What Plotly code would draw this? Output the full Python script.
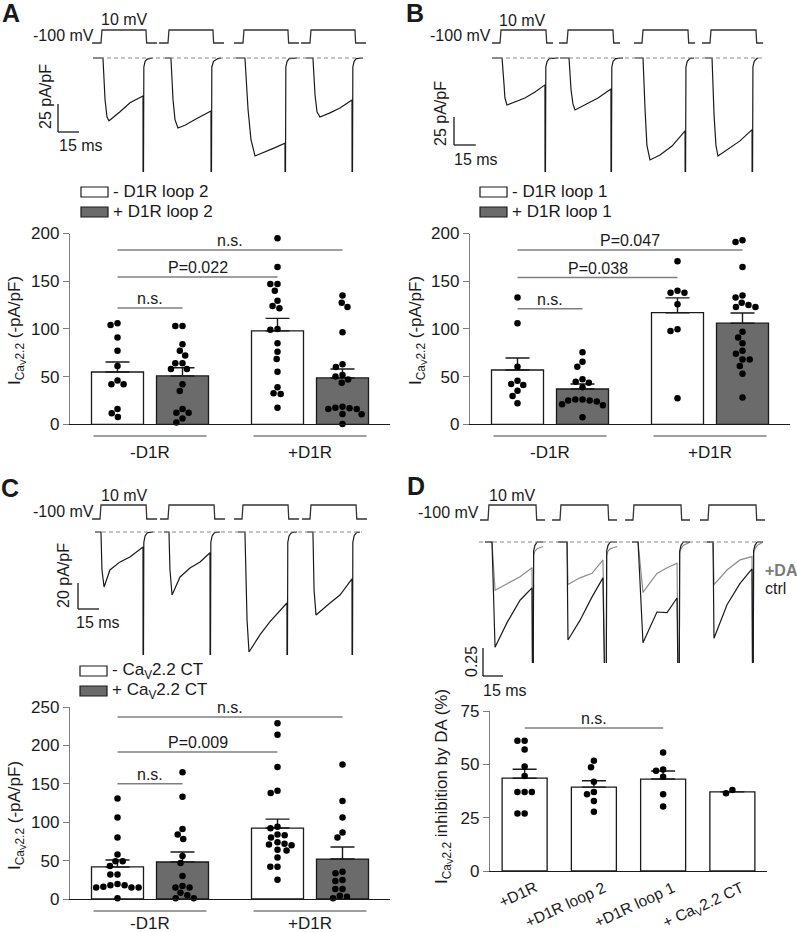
import plotly.graph_objects as go

W, H = 797, 932
FONT = "Liberation Sans, Arial, sans-serif"
BLACK = "#1a1a1a"
AXGREY = "#7f7f7f"
BARGREY = "#6b6b6b"
DAGREY = "#8c8c8c"
BARGAP, BARGROUPGAP = 0.1875, 0.2

# ======================= DATA =======================
# voltage protocol (mV) and its timing (ms) per panel
STEP_V = [-100, -100, 10, 10, -100, -100]
A_step_t = [-6.4, 0, 0.7, 32.1, 32.6, 40.0]
B_step_t = [-5.5, 0, 0.7, 31.7, 32.2, 36.6]
C_step_t = [-5.7, 0, 0.7, 32.9, 33.4, 40.7]
D_step_t = [-6.0, 0, 0.7, 36.1, 36.6, 42.9]

# current traces (time ms, current pA/pF)
A1_t = [-5.7, 1.4, 2.9, 4.3, 5.7, 10.0, 13.6, 20.7, 25.7, 30.0, 30.1, 30.6, 31.5, 33.0, 37.0]
A1_i = [0, 0, -37.5, -52.7, -56.0, -52.0, -48.0, -40.0, -36.6, -34.0, -200, -8, -3, -1, 0]
A2_t = [-2.1, 2.1, 3.6, 5.0, 7.1, 12.1, 19.3, 26.4, 30.7, 30.8, 31.3, 32.5, 35.7, 37.9]
A2_i = [0, 0, -37.5, -55.0, -62.5, -60.0, -55.0, -50.0, -47.3, -200, -8, -3, -0.5, 0]
A3_t = [-5.0, 1.4, 3.6, 5.7, 8.6, 15.7, 22.9, 30.0, 30.1, 30.6, 31.5, 33.0, 38.6]
A3_i = [0, 0, -46.0, -73.0, -87.5, -84.0, -80.0, -76.0, -200, -8, -3, -0.5, 0]
A4_t = [-2.9, 2.1, 3.6, 5.0, 7.1, 14.3, 21.4, 30.0, 30.1, 30.6, 31.5, 33.0, 37.9]
A4_i = [0, 0, -33.0, -48.0, -52.7, -49.0, -44.6, -37.5, -200, -8, -3, -0.5, 0]

B1_t = [-5.5, 1.4, 2.8, 3.4, 4.8, 10.3, 17.2, 24.1, 31.0, 31.1, 31.6, 32.5, 34.0, 40.0]
B1_i = [0, 0, -24.0, -35.7, -42.0, -39.3, -35.7, -30.4, -24.0, -200, -8, -3, -0.5, 0]
B2_t = [-4.8, 1.4, 2.8, 4.1, 5.5, 12.4, 21.4, 30.3, 30.4, 30.9, 31.8, 33.5, 38.6]
B2_i = [0, 0, -28.6, -41.0, -46.4, -42.0, -35.7, -27.7, -200, -8, -3, -0.5, 0]
B3_t = [-4.8, 0.7, 2.1, 3.4, 5.5, 12.4, 20.7, 29.7, 29.8, 30.3, 31.2, 32.9, 35.9]
B3_i = [0, 0, -46.0, -78.0, -91.0, -86.6, -78.6, -65.0, -200, -8, -3, -0.5, 0]
B4_t = [-3.4, 1.4, 2.8, 4.1, 5.5, 12.4, 20.7, 29.0, 29.1, 29.6, 30.5, 32.2, 33.1]
B4_i = [0, 0, -51.0, -78.0, -87.5, -81.0, -74.0, -64.0, -200, -8, -3, -0.5, 0]

C1_t = [-3.6, 0.7, 1.4, 2.9, 7.1, 14.3, 21.4, 30.7, 30.8, 31.3, 32.2, 33.9, 37.9]
C1_i = [0, 0, -29.0, -42.3, -29.2, -23.0, -19.2, -11.5, -200, -8, -3, -0.5, 0]
C2_t = [-2.9, 0.7, 1.4, 2.9, 8.6, 15.7, 22.9, 30.0, 30.1, 30.6, 31.5, 33.2, 37.1]
C2_i = [0, 0, -29.0, -48.5, -34.6, -27.7, -23.0, -16.0, -200, -8, -3, -0.5, 0]
C3_t = [-2.9, 2.1, 3.6, 5.0, 12.9, 20.0, 32.1, 32.2, 32.7, 33.6, 35.3, 39.3]
C3_i = [0, 0, -67.7, -92.3, -79.0, -69.0, -54.6, -200, -8, -3, -0.5, 0]
C4_t = [-2.1, 2.1, 2.9, 4.3, 14.3, 21.4, 30.0, 30.1, 30.6, 31.5, 33.2, 35.7]
C4_i = [0, 0, -44.6, -63.8, -54.6, -48.5, -36.0, -200, -8, -3, -0.5, 0]

# panel D: normalised current, ctrl (black) and +DA (grey)
D1_t = [-2.3, 3.0, 5.3, 14.3, 24.1, 33.1, 33.8, 34.3, 35.3, 37.0, 41.4]
D1_ctrl = [0, 0, -0.94, -0.72, -0.52, -0.41, -2.0, -0.08, -0.03, 0, 0]
D1_da = [0, 0, -0.43, -0.37, -0.31, -0.23, -2.0, -0.12, -0.08, -0.06, -0.04]
D2_t = [-1.5, 5.3, 6.0, 15.0, 24.1, 32.3, 34.6, 35.1, 36.1, 37.8, 42.9]
D2_ctrl = [0, 0, -0.875, -0.70, -0.49, -0.32, -2.0, -0.08, -0.03, 0, 0]
D2_da = [0, 0, -0.38, -0.32, -0.28, -0.16, -2.0, -0.12, -0.08, -0.06, -0.04]
D3_t = [-0.8, 3.8, 7.5, 18.0, 25.6, 33.1, 34.6, 35.1, 36.1, 37.8, 42.9]
D3_ctrl = [0, 0, -0.90, -0.625, -0.63, -0.50, -2.0, -0.08, -0.03, 0, 0]
D3_da = [0, 0, -0.45, -0.28, -0.23, -0.19, -2.0, -0.10, -0.06, -0.03, 0]
D4_t = [-0.8, 3.8, 4.5, 14.3, 24.1, 33.1, 33.8, 34.3, 35.3, 37.0, 41.4]
D4_ctrl = [0, 0, -0.86, -0.56, -0.37, -0.24, -2.0, -0.08, -0.03, 0, 0]
D4_da = [0, 0, -0.38, -0.25, -0.16, -0.13, -2.0, -0.10, -0.06, -0.03, 0]

# bar charts: groups, series, means, SEM, individual cells
GROUPS = ["-D1R", "+D1R"]
A_series = ["- D1R loop 2", "+ D1R loop 2"]
A_mean_w = [54.8, 97.9]
A_sem_w = [10.5, 13.1]
A_mean_g = [50.7, 48.6]
A_sem_g = [8.5, 9.3]
A_pts_w_neg = [106, 104, 91, 77, 61, 46, 42, 42, 16, 11.5, 7.6]
A_pts_g_neg = [103, 103, 84, 77, 72, 64, 64, 58, 58, 42, 35, 16, 12, 12, 6, 2]
A_pts_w_pos = [195, 165, 147, 147, 140, 129.5, 124, 121.6, 100, 99, 85, 76, 68.5, 55, 38.8, 32.5, 31.8, 17.4]
A_pts_g_pos = [135, 127.5, 123, 96.4, 63, 60, 51.7, 50, 47, 43.6, 18.5, 17.4, 16.8, 16, 16, 10.8, 10.5, 0.3]
A_sig_from = [0, 0, 0]
A_sig_to = [1, 2, 3]
A_sig_y = [122, 154.4, 182.6]
A_sig_text = ["n.s.", "P=0.022", "n.s."]

B_series = ["- D1R loop 1", "+ D1R loop 1"]
B_mean_w = [56.9, 117.0]
B_sem_w = [12.6, 15.5]
B_mean_g = [37.0, 106.0]
B_sem_g = [5.2, 10.7]
B_pts_w_neg = [133, 106, 60.4, 45.7, 42.2, 41.2, 35.2, 29.7, 22]
B_pts_g_neg = [75.5, 65.6, 60.4, 47.2, 44.7, 43.6, 38.8, 26, 26, 25, 25, 24, 21, 20, 7.3]
B_pts_w_pos = [171, 140, 138, 138, 125.8, 99.6, 97.8, 27.4]
B_pts_g_pos = [193, 191, 165, 135, 133, 127.5, 125, 123, 123, 97, 91, 85, 77, 74, 68, 68, 61, 53, 28]
B_sig_from = [0, 0, 0]
B_sig_to = [1, 2, 3]
B_sig_y = [121, 153.8, 182.6]
B_sig_text = ["n.s.", "P=0.038", "P=0.047"]

C_series = ["- Ca<sub>V</sub>2.2 CT", "+ Ca<sub>V</sub>2.2 CT"]
C_mean_w = [41.7, 92.4]
C_sem_w = [9.1, 11.6]
C_mean_g = [48.2, 52.0]
C_sem_g = [13.0, 15.7]
C_pts_w_neg = [131, 106, 80, 58, 49, 49, 43, 32, 32, 19.5, 18, 18, 16, 15, 15, 15, 1]
C_pts_g_neg = [165, 133, 91, 84, 78, 56, 47, 30, 17, 15, 15, 8, 5, 1, 1]
C_pts_w_pos = [229, 214, 172, 141, 138, 94, 92, 84, 83, 80, 74, 72, 71, 70, 64, 63, 54, 42, 42, 25]
C_pts_g_pos = [175, 127.5, 106, 86.7, 80, 35.5, 33.4, 24.7, 23.4, 13, 13, 4.3, 3, 1]
C_sig_from = [0, 0, 0]
C_sig_to = [1, 2, 3]
C_sig_y = [150, 191.4, 237]
C_sig_text = ["n.s.", "P=0.009", "n.s."]

D_cats = ["+D1R", "+D1R loop 2", "+D1R loop 1", "+ Ca<sub>V</sub>2.2 CT"]
D_mean = [43.5, 39.3, 43.1, 37.1]
D_sem = [4.2, 3.0, 3.8, 0.0]
D_pts_1 = [61, 61, 57, 49, 44.5, 37, 37, 37, 27, 27]
D_pts_2 = [51.7, 48.6, 41.8, 37, 36, 32.8, 27.8]
D_pts_3 = [55.5, 47.6, 47, 44.2, 36, 30.2]
D_pts_4 = [38, 36.4]
D_sig_from = [0]
D_sig_to = [2]
D_sig_y = [67]
D_sig_text = ["n.s."]

# ======================= HELPERS =======================
layout_axes = {}
counters = {"x": 0, "y": 0}
traces = []
shapes = []
annotations = []


def add_axis(kind, **kw):
    counters[kind] += 1
    n = counters[kind]
    key = f"{kind}axis" + ("" if n == 1 else str(n))
    kw.setdefault("automargin", False)
    layout_axes[key] = kw
    return kind + ("" if n == 1 else str(n)), key


def px2x(px):
    return px / W


def py2y(py):
    return 1 - py / H


def text(px, py, s, size=16, xanchor="center", yanchor="middle", angle=0, color=BLACK, bold=False):
    annotations.append(dict(
        xref="paper", yref="paper", x=px2x(px), y=py2y(py),
        text=f"<b>{s}</b>" if bold else s, showarrow=False,
        xanchor=xanchor, yanchor=yanchor, textangle=angle, borderpad=0,
        font=dict(family=FONT, size=size, color=color)))


def line_px(x0, y0, x1, y1, color=BLACK, width=1.3, dash=None):
    shapes.append(dict(type="line", xref="paper", yref="paper",
                       x0=px2x(x0), x1=px2x(x1), y0=py2y(y0), y1=py2y(y1),
                       line=dict(color=color, width=width, dash=dash)))


def rect_px(x0, y0, x1, y1, fill):
    shapes.append(dict(type="rect", xref="paper", yref="paper",
                       x0=px2x(x0), x1=px2x(x1), y0=py2y(y1), y1=py2y(y0),
                       fillcolor=fill, line=dict(color=BLACK, width=1.2)))


def trace_panel(rises, pxms, trange, v_hi_px, v_lo_px, base_px, ppu, top_px, bot_px,
                step_t, sweeps, dash_x):
    ppmv = (v_lo_px - v_hi_px) / 110.0
    yv, _ = add_axis("y", visible=False, fixedrange=True,
                     domain=[py2y(v_lo_px + 4), py2y(v_hi_px - 4)],
                     range=[-100 - 4 / ppmv, 10 + 4 / ppmv])
    yi, _ = add_axis("y", visible=False, fixedrange=True,
                     domain=[py2y(bot_px), py2y(top_px)],
                     range=[-(bot_px - base_px) / ppu, (base_px - top_px) / ppu])
    line_px(dash_x[0], base_px, dash_x[1], base_px, "#8a8a8a", 1.2, "4px,3px")
    for r, sw in zip(rises, sweeps):
        xa, _ = add_axis("x", visible=False, fixedrange=True,
                         domain=[px2x(r + trange[0] * pxms), px2x(r + trange[1] * pxms)],
                         range=list(trange))
        traces.append(go.Scatter(x=step_t, y=STEP_V, xaxis=xa, yaxis=yv, mode="lines",
                                 line=dict(color="#333333", width=1.3), hoverinfo="skip"))
        for (t, cur, col) in sw:
            traces.append(go.Scatter(x=t, y=cur, xaxis=xa, yaxis=yi, mode="lines",
                                     line=dict(color=col, width=1.2), hoverinfo="skip"))


def swarm(vals, ppu_y, ppu_x, d=7.2):
    order = sorted(range(len(vals)), key=lambda k: -vals[k])
    placed = []
    xs = [0.0] * len(vals)
    for k in order:
        y = vals[k] * ppu_y
        cands = [0.0]
        for (qx, qy) in placed:
            dy = abs(y - qy)
            if dy < d:
                dx = (d * d - dy * dy) ** 0.5
                cands += [qx - dx, qx + dx]
        cands.sort(key=lambda c: (abs(c), c))
        for c in cands:
            if all((c - qx) ** 2 + (y - qy) ** 2 >= d * d - 1e-6 for qx, qy in placed):
                xs[k] = c
                placed.append((c, y))
                break
    return [x / ppu_x for x in xs]


def bar_panel(x0px, x1px, ytop_px, ybot_px, ymax, dtick, series, ncat,
              sig_from, sig_to, sig_y, sig_text, cat_labels=None):
    xb, xkey = add_axis("x")
    yb, ykey = add_axis("y")
    layout_axes[xkey].update(
        domain=[px2x(x0px), px2x(x1px)], range=[-0.5, ncat - 0.5], anchor=yb,
        showline=True, linecolor=BLACK, linewidth=1.4, showgrid=False, zeroline=False,
        ticks="", showticklabels=False, fixedrange=True)
    layout_axes[ykey].update(
        domain=[py2y(ybot_px), py2y(ytop_px)], range=[0, ymax], anchor=xb,
        showline=True, linecolor=AXGREY, linewidth=1.4, showgrid=False, zeroline=False,
        ticks="outside", ticklen=6, tickwidth=1.4, tickcolor=AXGREY, fixedrange=True,
        tickmode="linear", tick0=0, dtick=dtick,
        tickfont=dict(family=FONT, size=17, color=BLACK))
    ns = len(series)
    group_w = 1 - BARGAP
    slot = group_w / ns
    ppu_y = (ybot_px - ytop_px) / ymax
    ppu_x = (x1px - x0px) / ncat
    centers = []
    for s, ser in enumerate(series):
        off = -group_w / 2 + slot * (s + 0.5)
        traces.append(go.Bar(
            x=list(range(ncat)), y=ser["mean"], xaxis=xb, yaxis=yb,
            marker=dict(color=ser["color"], line=dict(color=BLACK, width=1.3)),
            error_y=dict(type="data", symmetric=False, array=ser["sem"],
                         arrayminus=[0] * ncat, color=BLACK, thickness=1.4, width=12),
            hoverinfo="skip"))
        for c in range(ncat):
            centers.append((c, s, c + off))
        for c, pts in enumerate(ser["pts"]):
            dx = swarm(pts, ppu_y, ppu_x)
            traces.append(go.Scatter(
                x=[c + off + d for d in dx], y=pts, xaxis=xb, yaxis=yb, mode="markers",
                marker=dict(size=6.5, color="black"), cliponaxis=False, hoverinfo="skip"))
    order = sorted(centers, key=lambda t: (t[0], t[1]))
    pos = [t[2] for t in order]
    for a, b, h, lab in zip(sig_from, sig_to, sig_y, sig_text):
        shapes.append(dict(type="line", xref=xb, yref=yb, x0=pos[a], x1=pos[b], y0=h, y1=h,
                           line=dict(color=AXGREY, width=1.5)))
        annotations.append(dict(xref=xb, yref=yb, x=(pos[a] + pos[b]) / 2, y=h, text=lab,
                                showarrow=False, yanchor="bottom", yshift=0, borderpad=0,
                                font=dict(family=FONT, size=16, color=BLACK)))
    if cat_labels:
        # slanted category labels, right end just past each bar centre
        for c, lab in enumerate(cat_labels):
            annotations.append(dict(xref=xb, yref="paper", x=c + 16 / ppu_x, y=py2y(ybot_px + 6),
                                    text=lab, showarrow=False, xanchor="right", yanchor="top",
                                    textangle=-25, borderpad=0,
                                    font=dict(family=FONT, size=15.5, color=BLACK)))
    return x0px, ppu_x, slot


def group_axis_labels(x0px, ppu_x, slot, line_py, label_py):
    half = (slot / 2 + slot * (1 - BARGROUPGAP) / 2) * ppu_x - 2
    for g, lab in enumerate(GROUPS):
        cx = x0px + (g + 0.5) * ppu_x
        line_px(cx - half, line_py, cx + half, line_py, AXGREY, 1.4)
        text(cx, label_py, lab, size=17)


def legend(x0, y0, labels):
    for k, (lab, fill) in enumerate(zip(labels, ["white", BARGREY])):
        yy = y0 + 20 * k
        rect_px(x0, yy - 5, x0 + 27, yy + 5, fill)
        text(x0 + 31, yy, lab, size=17, xanchor="left")


# ======================= PANEL A =======================
text(11, 13, "A", size=25, bold=True)
text(95, 35, "-100 mV", size=16, xanchor="right")
text(100, 20, "10 mV", size=16, xanchor="left")
trace_panel([101, 168, 243, 310], 1.4, (-6.5, 40.5), 30, 43, 58, 1.12, 50, 172, A_step_t,
            [[(A1_t, A1_i, BLACK)], [(A2_t, A2_i, BLACK)], [(A3_t, A3_i, BLACK)], [(A4_t, A4_i, BLACK)]],
            (93, 365))
line_px(58, 132 - 25 * 1.12, 58, 132)
line_px(58, 132, 58 + 15 * 1.4, 132)
text(46, 97, "25 pA/pF", size=16, angle=-90)
text(58, 146, "15 ms", size=16, xanchor="left")
legend(81, 192, A_series)
xa0, ppa, sla = bar_panel(70, 390, 233.5, 424.3, 200, 50,
                          [dict(mean=A_mean_w, sem=A_sem_w, color="white", pts=[A_pts_w_neg, A_pts_w_pos]),
                           dict(mean=A_mean_g, sem=A_sem_g, color=BARGREY, pts=[A_pts_g_neg, A_pts_g_pos])],
                          2, A_sig_from, A_sig_to, A_sig_y, A_sig_text)
group_axis_labels(xa0, ppa, sla, 436, 452)
text(16, 331, "I<sub>Ca<sub>V</sub>2.2</sub> (-pA/pF)", size=17, angle=-90)

# ======================= PANEL B =======================
text(415, 13, "B", size=25, bold=True)
text(492, 35, "-100 mV", size=16, xanchor="right")
text(498, 21, "10 mV", size=16, xanchor="left")
trace_panel([500, 567, 642, 710], 1.45, (-6.0, 40.5), 30, 43, 58, 1.12, 50, 172, B_step_t,
            [[(B1_t, B1_i, BLACK)], [(B2_t, B2_i, BLACK)], [(B3_t, B3_i, BLACK)], [(B4_t, B4_i, BLACK)]],
            (492, 763))
line_px(454, 145 - 25 * 1.12, 454, 145)
line_px(454, 145, 454 + 15 * 1.45, 145)
text(440, 114, "25 pA/pF", size=16, angle=-90)
text(453, 159, "15 ms", size=16, xanchor="left")
legend(480, 192, B_series)
xb0, ppb, slb = bar_panel(470, 790, 233.5, 424.3, 200, 50,
                          [dict(mean=B_mean_w, sem=B_sem_w, color="white", pts=[B_pts_w_neg, B_pts_w_pos]),
                           dict(mean=B_mean_g, sem=B_sem_g, color=BARGREY, pts=[B_pts_g_neg, B_pts_g_pos])],
                          2, B_sig_from, B_sig_to, B_sig_y, B_sig_text)
group_axis_labels(xb0, ppb, slb, 436, 452)
text(417, 331, "I<sub>Ca<sub>V</sub>2.2</sub> (-pA/pF)", size=17, angle=-90)

# ======================= PANEL C =======================
text(10, 488, "C", size=25, bold=True)
text(95, 511, "-100 mV", size=16, xanchor="right")
text(100, 495, "10 mV", size=16, xanchor="left")
trace_panel([100, 168, 242, 310], 1.4, (-6.0, 41.0), 505, 519, 532, 1.3, 522, 655, C_step_t,
            [[(C1_t, C1_i, BLACK)], [(C2_t, C2_i, BLACK)], [(C3_t, C3_i, BLACK)], [(C4_t, C4_i, BLACK)]],
            (95, 362))
line_px(78, 609 - 20 * 1.3, 78, 609)
line_px(78, 609, 78 + 15 * 1.4, 609)
text(63, 576, "20 pA/pF", size=16, angle=-90)
text(75, 622, "15 ms", size=16, xanchor="left")
legend(80, 671, C_series)
xc0, ppc, slc = bar_panel(70, 390, 707, 899, 250, 50,
                          [dict(mean=C_mean_w, sem=C_sem_w, color="white", pts=[C_pts_w_neg, C_pts_w_pos]),
                           dict(mean=C_mean_g, sem=C_sem_g, color=BARGREY, pts=[C_pts_g_neg, C_pts_g_pos])],
                          2, C_sig_from, C_sig_to, C_sig_y, C_sig_text)
group_axis_labels(xc0, ppc, slc, 911, 923)
text(16, 816, "I<sub>Ca<sub>V</sub>2.2</sub> (-pA/pF)", size=17, angle=-90)

# ======================= PANEL D =======================
text(416, 486, "D", size=25, bold=True)
text(480, 512, "-100 mV", size=16, xanchor="right")
text(488, 495, "10 mV", size=16, xanchor="left")
trace_panel([488, 560, 633, 708], 1.33, (-6.5, 43.5), 505, 520, 542, 112, 524, 663, D_step_t,
            [[(D1_t, D1_da, DAGREY), (D1_t, D1_ctrl, BLACK)],
             [(D2_t, D2_da, DAGREY), (D2_t, D2_ctrl, BLACK)],
             [(D3_t, D3_da, DAGREY), (D3_t, D3_ctrl, BLACK)],
             [(D4_t, D4_da, DAGREY), (D4_t, D4_ctrl, BLACK)]],
            (479, 766))
line_px(483, 676 - 0.25 * 112, 483, 676)
line_px(483, 676, 483 + 15 * 1.33, 676)
text(471, 662, "0.25", size=16, angle=-90)
text(482, 690, "15 ms", size=16, xanchor="left")
text(764, 570, "+DA", size=16, xanchor="left", color="#7a7a7a", bold=True)
text(764, 588, "ctrl", size=16, xanchor="left")
bar_panel(490, 767, 711, 871, 75, 25,
          [dict(mean=D_mean, sem=D_sem, color="white", pts=[D_pts_1, D_pts_2, D_pts_3, D_pts_4])],
          4, D_sig_from, D_sig_to, D_sig_y, D_sig_text, cat_labels=D_cats)
text(443, 787, "I<sub>Ca<sub>V</sub>2.2</sub> inhibition by DA (%)", size=17, angle=-90)

# ======================= FIGURE =======================
fig = go.Figure(data=traces)
fig.update_layout(
    width=W, height=H, margin=dict(l=0, r=0, t=0, b=0, pad=0, autoexpand=False),
    paper_bgcolor="white", plot_bgcolor="rgba(0,0,0,0)",
    showlegend=False, barmode="group", bargap=BARGAP, bargroupgap=BARGROUPGAP,
    font=dict(family=FONT, size=16, color=BLACK),
    shapes=shapes, annotations=annotations,
    **layout_axes)
fig.write_html("out.html", config={"displayModeBar": False},
               post_script="document.body.style.margin='0px';document.body.style.overflow='hidden';")
